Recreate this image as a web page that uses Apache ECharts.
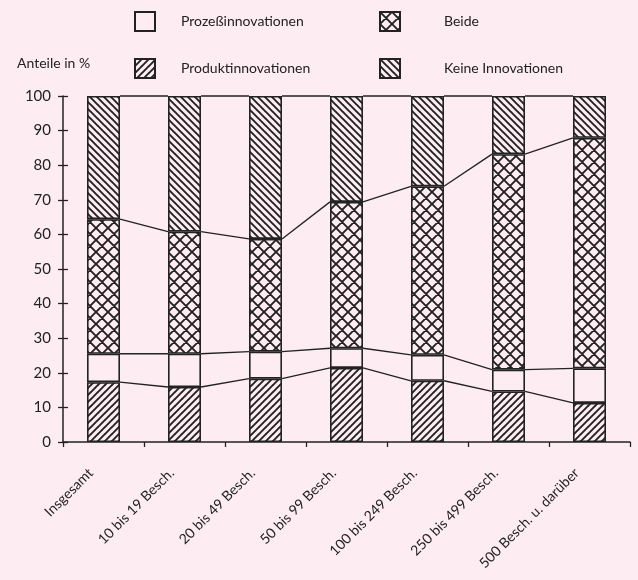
<!DOCTYPE html>
<html>
<head>
<meta charset="utf-8">
<script src="https://cdn.jsdelivr.net/npm/echarts@6/dist/echarts.min.js"></script>
<style>
html,body{margin:0;padding:0;background:#fdedf2;}
#chart{width:638px;height:580px;}
</style>
</head>
<body>
<div id="chart"></div>
<script>
// ---- data ----
const categories = ['Insgesamt', '10 bis 19 Besch.', '20 bis 49 Besch.', '50 bis 99 Besch.', '100 bis 249 Besch.', '250 bis 499 Besch.', '500 Besch. u. darüber'];
const produkt = [17.3, 15.9, 18.3, 21.4, 17.7, 14.6, 11.3];
const prozess = [8.2, 9.6, 7.8, 5.7, 7.5, 6.3, 10.0];
const beide   = [38.9, 35.3, 32.6, 42.3, 48.7, 62.3, 66.6];
const keine   = [35.6, 39.2, 41.3, 30.6, 26.1, 16.8, 12.1];
const seriesNames = ['Produktinnovationen', 'Prozeßinnovationen', 'Beide', 'Keine Innovationen'];
const yMin = 0, yMax = 100, yStep = 10;
const yTitle = 'Anteile in %';

// ---- styling ----
const INK = '#222';
const BG = '#fdedf2';
const FONT = 'Lato';
const BAR_W = 33;

function hatch(kind, size, lw) {
  const c = document.createElement('canvas');
  c.width = size; c.height = size;
  const g = c.getContext('2d');
  g.strokeStyle = INK; g.lineWidth = lw; g.lineCap = 'square';
  g.beginPath();
  for (let k = -1; k <= 1; k++) {
    if (kind === '/' || kind === 'x') { g.moveTo(k * size, size); g.lineTo(k * size + size, 0); }
    if (kind === '\\' || kind === 'x') { g.moveTo(k * size, 0); g.lineTo(k * size + size, size); }
  }
  g.stroke();
  return c;
}
const fills = [
  { image: hatch('/', 7, 1.9), repeat: 'repeat' },
  'rgba(0,0,0,0)',
  { image: hatch('x', 12, 1.9), repeat: 'repeat' },
  { image: hatch('\\', 7, 1.9), repeat: 'repeat' }
];
const values = [produkt, prozess, beide, keine];

// cumulative tops
const cum = values.map((_, k) => categories.map((__, i) => {
  let s = 0; for (let j = 0; j <= k; j++) s += values[j][i]; return s;
}));
const linkData = [];
for (let i = 0; i < categories.length - 1; i++) {
  linkData.push([i, cum[0][i], cum[1][i], cum[2][i], cum[3][i], cum[0][i + 1], cum[1][i + 1], cum[2][i + 1], cum[3][i + 1]]);
}

const barSeries = seriesNames.map((name, k) => ({
  name: name,
  type: 'bar',
  stack: 'all',
  barWidth: BAR_W,
  data: values[k],
  itemStyle: { color: fills[k], borderColor: INK, borderWidth: 1.6 },
  emphasis: { disabled: true },
  animation: false
}));

const linkSeries = {
  type: 'custom',
  data: linkData,
  encode: { x: 0, y: 1 },
  silent: true,
  animation: false,
  renderItem: function (params, api) {
    const i = api.value(0);
    const h = BAR_W / 2;
    const children = [];
    for (let k = 1; k <= 4; k++) {
      const p0 = api.coord([i, api.value(k)]);
      const p1 = api.coord([i + 1, api.value(k + 4)]);
      children.push({
        type: 'line',
        shape: { x1: p0[0] + h, y1: p0[1], x2: p1[0] - h, y2: p1[1] },
        style: { stroke: INK, lineWidth: 1.3 }
      });
    }
    return { type: 'group', children: children };
  }
};

const chart = echarts.init(document.getElementById('chart'), null, { renderer: 'canvas' });
chart.setOption({
  backgroundColor: BG,
  animation: false,
  textStyle: { fontFamily: FONT, color: INK },
  title: {
    text: yTitle, left: 17, top: 56, padding: 0,
    textStyle: { fontFamily: FONT, fontSize: 14, fontWeight: 'normal', color: INK }
  },
  legend: [
    {
      left: 134, top: 11, orient: 'vertical', padding: 0,
      itemWidth: 20, itemHeight: 19, itemGap: 26, icon: 'rect',
      data: ['Prozeßinnovationen', 'Produktinnovationen'],
      textStyle: { fontFamily: FONT, fontSize: 14, color: INK, padding: [0, 0, 0, 21] },
      selectedMode: false
    },
    {
      left: 379, top: 11, orient: 'vertical', padding: 0,
      itemWidth: 20, itemHeight: 19, itemGap: 26, icon: 'rect',
      data: ['Beide', 'Keine Innovationen'],
      textStyle: { fontFamily: FONT, fontSize: 14, color: INK, padding: [0, 0, 0, 39] },
      selectedMode: false
    }
  ],
  grid: { left: 63, right: 8, top: 96, bottom: 138 },
  xAxis: {
    type: 'category', data: categories, boundaryGap: true,
    axisLine: { lineStyle: { color: INK, width: 1.5 } },
    axisTick: { show: true, length: 5, interval: 0, lineStyle: { color: INK, width: 1.3 } },
    axisLabel: {
      show: true, interval: 0, rotate: 45, margin: 16,
      fontFamily: FONT, fontSize: 14, color: INK, padding: [0, 18, 0, 0]
    }
  },
  yAxis: [
    {
      type: 'value', min: yMin, max: yMax, interval: yStep, position: 'left',
      axisLine: { show: true, lineStyle: { color: INK, width: 1.5 } },
      axisTick: { show: true, length: 5, lineStyle: { color: INK, width: 1.3 } },
      axisLabel: { margin: 12, fontFamily: FONT, fontSize: 15, color: INK },
      splitLine: { show: false }
    },
    {
      type: 'value', min: yMin, max: yMax, interval: yStep, position: 'left',
      axisLine: { show: false },
      axisTick: { show: true, inside: true, length: 5, lineStyle: { color: INK, width: 1.3 } },
      axisLabel: { show: false },
      splitLine: { show: false }
    }
  ],
  series: barSeries.concat([linkSeries])
});
</script>
</body>
</html>
